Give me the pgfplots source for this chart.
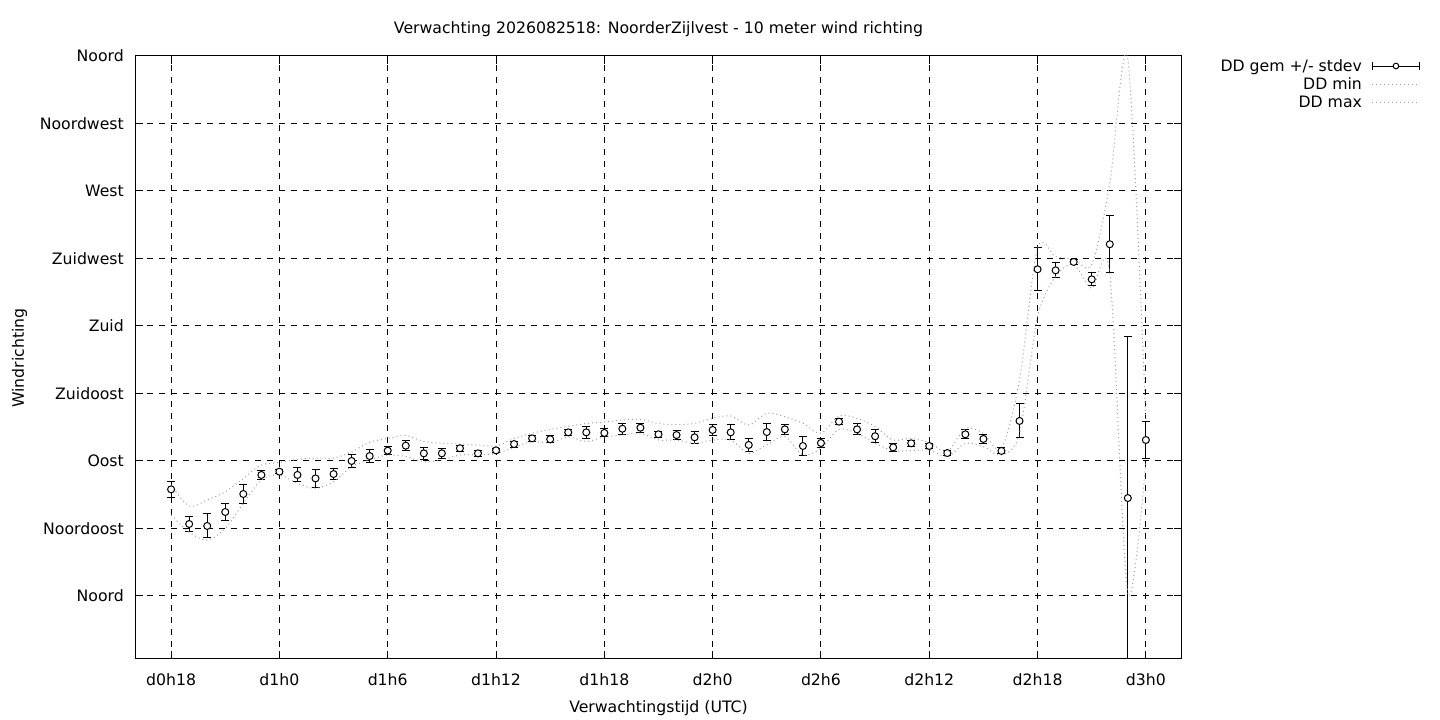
\documentclass[border=0pt]{standalone}
\usepackage{fontspec}
\setmainfont{DejaVu Sans}
\usepackage{pgfplots}
\pgfplotsset{compat=1.18}
\usepackage{pgfplotstable}
\newcommand{\fs}{\fontsize{15.7pt}{18pt}\selectfont}
\definecolor{dotgray}{RGB}{160,160,160}

\pgfplotstableread{
h mean err lo hi
18 71.1 5.5 54 74
19 48.0 5.2 42.5 60
20 46.7 8.0 37.3 64
21 56.0 5.8 45 69.5
22 68.0 6.3 61.8 78.4
23 80.7 3.0 77.3 87.3
24 82.9 1.5 80.7 89
25 80.7 4.7 75 91
26 78.4 6.0 71.8 92
27 81.3 3.7 76.2 92
28 90.0 4.2 86.2 96
29 93.3 4.1 90.7 102.5
30 96.9 2.8 94 105
31 100.2 3.2 93 107
32 95.1 4.0 89.5 103
33 95.1 3.3 90.7 101.8
34 98.5 2.0 94 101.3
35 95.1 2.0 94 100.7
36 97.1 1.5 95 100
37 101.3 2.0 99 105
38 105.1 2.0 103 108.5
39 104.5 2.3 102 111
40 109.1 2.0 106 113
41 109.1 4.0 103 115
42 108.7 2.7 106 116
43 111.5 3.7 107.3 117.3
44 112.2 3.1 108.5 117.8
45 107.8 2.0 104 115
46 107.3 3.3 104 114.2
47 105.8 3.9 101.8 115.1
48 110.7 3.8 104 118.5
49 109.1 5.0 104 120
50 100.7 4.4 95.1 114
51 109.3 5.9 100.7 121.8
52 111.1 3.3 106.2 119.5
53 100.0 6.1 94 115.1
54 102.0 2.7 98.5 108.5
55 116.2 2.0 111.1 120
56 111.1 3.7 108.5 118.5
57 106.5 4.4 101.8 112.9
58 99.1 2.6 96.9 104
59 101.8 2.0 96.9 105.1
60 100.0 1.5 97.3 102.2
61 95.3 1.5 92.9 96.5
62 107.8 3.1 101.8 111.8
63 104.7 2.8 99.5 108.4
64 96.7 2.0 94 98.5
65 116.7 11.3 108.4 144
66 217.8 14.2 186 232
67 217.1 5.0 212.9 226.2
68 222.7 1.7 221 224.5
69 211.1 4.3 205 221
70 234.5 19.0 215 275
71 65.3 107.8 2 358
72 104.0 12.4 90 117
}\ddata

\begin{document}
\begin{tikzpicture}[x=1pt,y=1pt]
\path[use as bounding box] (0,0) rectangle (1440,720);
\begin{axis}[
  at={(135pt,61pt)}, anchor=south west,
  scale only axis, width=1047pt, height=603pt,
  xmin=16, xmax=74, ymin=-42, ymax=360,
  xtick={18,24,30,36,42,48,54,60,66,72},
  xticklabels={d0h18,d1h0,d1h6,d1h12,d1h18,d2h0,d2h6,d2h12,d2h18,d3h0},
  ytick={0,45,90,135,180,225,270,315,360},
  yticklabels={Noord,Noordoost,Oost,Zuidoost,Zuid,Zuidwest,West,Noordwest,Noord},
  tick align=inside, tick pos=both, major tick length=8pt,
  minor tick num=0,
  grid=major,
  major grid style={black, line width=1pt, dash pattern=on 6pt off 6pt},
  axis line style={black, line width=1pt},
  every tick/.style={black, line width=1pt},
  tick label style={font=\fs},
  xticklabel style={anchor=base, yshift=-26pt, inner sep=0pt},
  yticklabel style={anchor=east, xshift=-11pt, inner sep=0pt},
  legend plot pos=right,
  legend cell align=right,
  legend style={at={(axis description cs:1.2273,0.9983)}, anchor=north east,
    draw=none, fill=none, inner sep=0pt, outer sep=0pt, font=\fs,
    row sep=0pt, column sep=10pt,
    nodes={inner sep=0pt, text height=14pt, text depth=4pt},
    cells={anchor=east}},
]
% error bars
\addplot[draw=none, mark=none, forget plot,
  error bars/.cd, y dir=both, y explicit,
  error bar style={black, line width=1pt, solid},
  error mark options={rotate=90, mark size=4pt, line width=1pt, black, solid}]
  table[x=h, y=mean, y error=err] {\ddata};
% mean markers
\addplot[only marks, mark=*, mark size=3.5pt,
  mark options={fill=white, draw=black, line width=1pt, solid},
  legend image code/.code={
    \draw[black, line width=1pt] (0pt,0pt) -- (47pt,0pt);
    \draw[black, line width=1pt] (0pt,-4pt) -- (0pt,4pt);
    \draw[black, line width=1pt] (47pt,-4pt) -- (47pt,4pt);
    \draw[black, line width=1pt, fill=white] (23.5pt,0pt) circle (2.8pt);
  }]
  table[x=h, y=mean] {\ddata};
\addlegendentry{DD gem +/- stdev}
\addplot[dotgray, line width=1pt, dash pattern=on 1pt off 3pt, smooth, tension=0.5,
  legend image code/.code={\draw[dotgray, line width=1pt, dash pattern=on 1pt off 3pt] (0pt,0pt) -- (47pt,0pt);}]
  table[x=h, y=lo] {\ddata};
\addlegendentry{DD min}
\addplot[dotgray, line width=1pt, dash pattern=on 1pt off 3pt, smooth, tension=0.5,
  legend image code/.code={\draw[dotgray, line width=1pt, dash pattern=on 1pt off 3pt] (0pt,0pt) -- (47pt,0pt);}]
  table[x=h, y=hi] {\ddata};
\addlegendentry{DD max}
\end{axis}
\node[anchor=base, font=\fs] at (658.5,686) {Verwachting 2026082518: NoorderZijlvest - 10 meter wind richting};
\node[anchor=base, font=\fs] at (658.5,8) {Verwachtingstijd (UTC)};
\node[anchor=base, rotate=90, font=\fs] at (23.8,362) {Windrichting};
\end{tikzpicture}
\end{document}
